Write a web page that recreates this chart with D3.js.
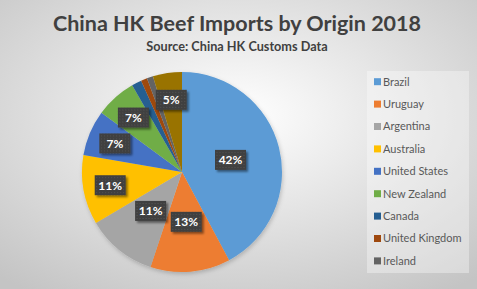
<!DOCTYPE html>
<html>
<head>
<meta charset="utf-8">
<script src="https://cdn.jsdelivr.net/npm/d3@7"></script>
<style>
  html, body { margin: 0; padding: 0; }
  body { width: 477px; height: 289px; overflow: hidden; }
  svg { display: block; font-family: Lato, "Open Sans", sans-serif; }
</style>
</head>
<body>
<div id="chart"></div>
<script>
// --- data ----------------------------------------------------------------
const origins = ["Brazil", "Uruguay", "Argentina", "Australia", "United States",
                 "New Zealand", "Canada", "United Kingdom", "Ireland", "Others"];
const shares  = [42.2, 12.9, 11.4, 11.2, 7.4, 6.6, 1.6, 1.0, 1.0, 4.7];
const colours = ["#5b9bd5", "#ed7d31", "#a5a5a5", "#ffc000", "#4472c4",
                 "#70ad47", "#255e91", "#9e480e", "#636363", "#997300"];
const legendCount = 9;   // the Excel legend is clipped after Ireland

const W = 477, H = 289;
const cx = 182, cy = 172, R = 100;

const svg = d3.select("#chart").append("svg")
    .attr("width", W).attr("height", H);

const defs = svg.append("defs");

// chart-area background: soft radial gradient, white in the middle
const bg = defs.append("radialGradient").attr("id", "bg")
    .attr("cx", "50%").attr("cy", "40%").attr("r", "75%");
bg.append("stop").attr("offset", "0%").attr("stop-color", "#ffffff");
bg.append("stop").attr("offset", "100%").attr("stop-color", "#c4c4c4");

// little dotted texture on the label boxes
const pat = defs.append("pattern").attr("id", "dots")
    .attr("width", 3).attr("height", 3).attr("patternUnits", "userSpaceOnUse");
pat.append("rect").attr("width", 3).attr("height", 3).attr("fill", "#3f3f3f");
pat.append("rect").attr("x", 1).attr("y", 1).attr("width", 1).attr("height", 1)
    .attr("fill", "#575757");

const shadow = defs.append("filter").attr("id", "shadow")
    .attr("x", "-30%").attr("y", "-30%").attr("width", "160%").attr("height", "160%");
shadow.append("feDropShadow").attr("dx", 2).attr("dy", 2).attr("stdDeviation", 1.2)
    .attr("flood-color", "#000").attr("flood-opacity", 0.45);

const pieShadow = defs.append("filter").attr("id", "pieShadow")
    .attr("x", "-20%").attr("y", "-20%").attr("width", "140%").attr("height", "140%");
pieShadow.append("feDropShadow").attr("dx", 1).attr("dy", 2).attr("stdDeviation", 2)
    .attr("flood-color", "#000").attr("flood-opacity", 0.2);

svg.append("rect").attr("width", W).attr("height", H).attr("fill", "url(#bg)");

// --- titles -------------------------------------------------------------
svg.append("text")
    .attr("x", 237).attr("y", 31)
    .attr("text-anchor", "middle")
    .style("font-size", "21.5px").style("font-weight", 700)
    .style("fill", "#404040")
    .text("China HK Beef Imports by Origin 2018");

svg.append("text")
    .attr("x", 237).attr("y", 51)
    .attr("text-anchor", "middle")
    .style("font-size", "12.7px").style("font-weight", 700)
    .style("fill", "#404040")
    .text("Source: China HK Customs Data");

// --- pie ----------------------------------------------------------------
const rows = origins.map((name, i) => ({ name, value: shares[i], colour: colours[i] }));

const pie = d3.pie().sort(null).value(d => d.value);
const arcs = pie(rows);
const arc = d3.arc().innerRadius(0).outerRadius(R);

const g = svg.append("g").attr("transform", `translate(${cx}, ${cy})`);

g.append("g").attr("filter", "url(#pieShadow)")
  .selectAll("path")
  .data(arcs)
  .join("path")
    .attr("d", arc)
    .attr("fill", d => d.data.colour);

// data labels: big slices get them near the middle, the rest further out
const total = d3.sum(shares);
const labelled = arcs.filter(d => d.data.value / total >= 0.03);

const lab = g.selectAll("g.lab")
  .data(labelled)
  .join("g")
    .attr("class", "lab")
    .attr("transform", d => {
        const r = (d.index < 3 ? 0.5 : 0.73) * R;
        const [x, y] = d3.arc().innerRadius(r).outerRadius(r).centroid(d);
        return `translate(${x}, ${y})`;
    });

lab.append("rect")
    .attr("x", -15.5).attr("y", -10)
    .attr("width", 31).attr("height", 20)
    .attr("fill", "url(#dots)")
    .attr("filter", "url(#shadow)");

lab.append("text")
    .attr("text-anchor", "middle")
    .attr("dy", "0.36em")
    .style("font-size", "12px").style("font-weight", 700)
    .style("fill", "#ffffff")
    .text(d => `${Math.round(d.data.value / total * 100)}%`);

// --- legend -------------------------------------------------------------
const legend = svg.append("g").attr("transform", "translate(367, 71)");

legend.append("rect")
    .attr("width", 102).attr("height", 202)
    .attr("fill", "#ffffff").attr("fill-opacity", 0.35);

const step = 22.4;
const item = legend.selectAll("g.item")
  .data(rows.slice(0, legendCount))
  .join("g")
    .attr("class", "item")
    .attr("transform", (d, i) => `translate(0, ${10.7 + i * step})`);

item.append("rect")
    .attr("x", 7).attr("y", -3.5)
    .attr("width", 7).attr("height", 7)
    .attr("fill", d => d.colour);

item.append("text")
    .attr("x", 16).attr("dy", "0.36em")
    .style("font-size", "11px")
    .style("fill", "#595959")
    .text(d => d.name);
</script>
</body>
</html>
